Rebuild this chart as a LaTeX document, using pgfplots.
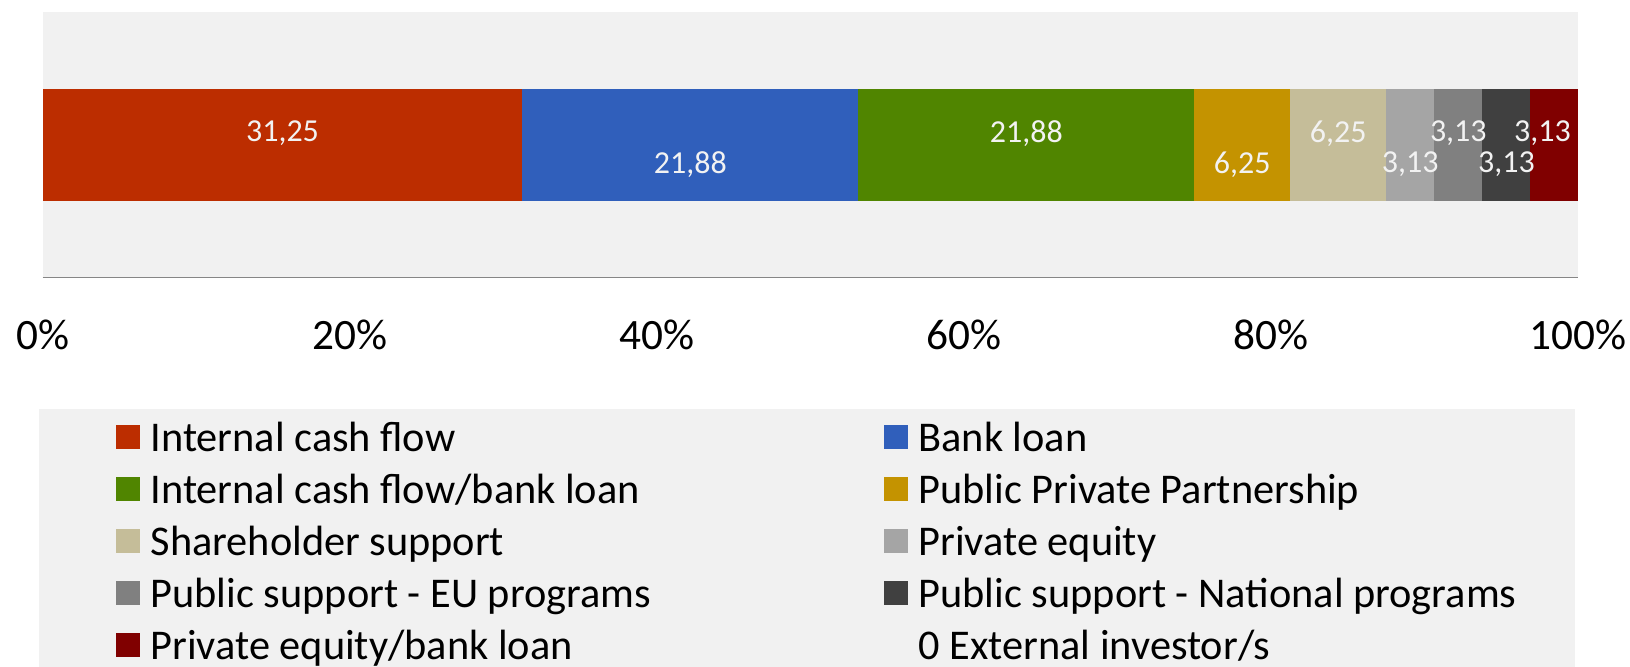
\documentclass[border=0pt]{standalone}
\usepackage{fontspec}
\setmainfont{Carlito}
\usepackage{pgfplots}
\pgfplotsset{compat=1.18}

\definecolor{cA}{RGB}{188,45,0}
\definecolor{cB}{RGB}{48,95,187}
\definecolor{cC}{RGB}{80,133,0}
\definecolor{cD}{RGB}{196,147,0}
\definecolor{cE}{RGB}{197,189,153}
\definecolor{cF}{RGB}{165,165,165}
\definecolor{cG}{RGB}{128,128,128}
\definecolor{cH}{RGB}{64,64,64}
\definecolor{cI}{RGB}{128,0,0}
\definecolor{bgc}{RGB}{241,241,241}
\definecolor{axc}{RGB}{134,134,134}
\definecolor{labc}{RGB}{242,242,242}

% labels sit at the segment centre; #2 is an extra shift
\pgfplotsset{
  up/.style 2 args={nodes near coords={#1},
    every node near coord/.append style={anchor=center, xshift=#2, yshift=3.4pt}},
  dn/.style 2 args={nodes near coords={#1},
    every node near coord/.append style={anchor=center, xshift=#2, yshift=-5.8pt}},
}

\begin{document}
\begin{tikzpicture}
% legend background
\fill[bgc] (-1.08pt,-39.45pt) rectangle (459.72pt,-120pt);
\begin{axis}[
  at={(0pt,0pt)}, anchor=south west,
  scale only axis, width=460.62pt, height=79.5pt,
  xbar stacked, bar width=33.8pt,
  xmin=0, xmax=100, ymin=0, ymax=1,
  clip=false,
  axis background/.style={fill=bgc},
  axis x line*=bottom, axis y line=none,
  x axis line style={draw=axc, line width=0.45pt},
  xtick={0,20,...,100}, major tick length=0pt,
  xticklabel={\pgfmathprintnumber[assume math mode=true]{\tick}\%},
  xticklabel style={anchor=center, yshift=-17.25pt, font=\fontsize{13}{15}\selectfont},
  ytick=\empty,
  every node near coord/.append style={text=labc, font=\fontsize{9.6}{11}\selectfont},
  legend columns=2, legend cell align=left,
  legend style={at={(axis description cs:0,0)}, anchor=north west,
    xshift=21.7pt, yshift=-41.25pt, draw=none, fill=none, inner sep=0pt,
    row sep=2.7pt, column sep=0pt, font=\fontsize{12.7}{14}\selectfont,
    nodes={inner sep=0pt, text height=10.6pt, text depth=2.3pt}},
  legend image code/.code={\fill (0pt,-3.6pt) rectangle (7.2pt,3.6pt); \path (10.5pt,0pt);},
]
\addplot[fill=cA, draw=none, up={31,25}{0pt}] coordinates {(31.25,0.5)};
\addlegendentry{\makebox[219.9pt][l]{Internal cash flow}}
\addplot[fill=cB, draw=none, dn={21,88}{0pt}] coordinates {(21.88,0.5)};
\addlegendentry{Bank loan}
\addplot[fill=cC, draw=none, up={21,88}{0pt}] coordinates {(21.88,0.5)};
\addlegendentry{\makebox[219.9pt][l]{Internal cash flow/bank loan}}
\addplot[fill=cD, draw=none, dn={6,25}{0pt}] coordinates {(6.25,0.5)};
\addlegendentry{Public Private Partnership}
\addplot[fill=cE, draw=none, up={6,25}{0pt}] coordinates {(6.25,0.5)};
\addlegendentry{\makebox[219.9pt][l]{Shareholder support}}
\addplot[fill=cF, draw=none, dn={3,13}{0pt}] coordinates {(3.13,0.5)};
\addlegendentry{Private equity}
\addplot[fill=cG, draw=none, up={3,13}{0pt}] coordinates {(3.13,0.5)};
\addlegendentry{\makebox[219.9pt][l]{Public support - EU programs}}
\addplot[fill=cH, draw=none, dn={3,13}{0pt}] coordinates {(3.13,0.5)};
\addlegendentry{Public support - National programs}
\addplot[fill=cI, draw=none, up={3,13}{-3.6pt}] coordinates {(3.13,0.5)};
\addlegendentry{\makebox[219.9pt][l]{Private equity/bank loan}}
\addlegendimage{empty legend}
\addlegendentry{0 External investor/s}
\end{axis}
\pgfresetboundingbox
\useasboundingbox (-12.78pt,-116.85pt) rectangle (476.22pt,83.25pt);
\end{tikzpicture}
\end{document}
